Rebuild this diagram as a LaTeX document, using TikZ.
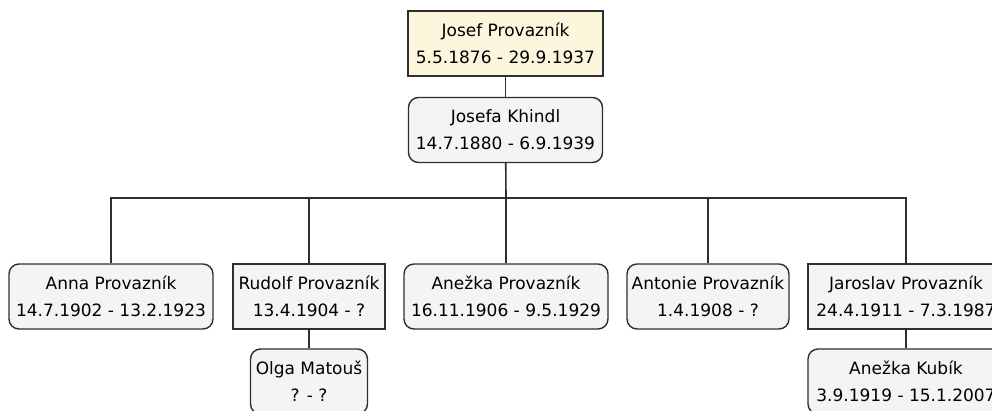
\documentclass[tikz,border=0pt]{standalone}
\usepackage{fontspec}
\setmainfont{DejaVu Sans}
\definecolor{paleyellow}{HTML}{FBF6DC}
\definecolor{palegray}{HTML}{F4F4F4}
\definecolor{edgegray}{HTML}{2E2E2E}
\tikzset{
  person/.style={draw=edgegray, line width=1.4pt, fill=palegray, align=center,
    minimum height=65pt, inner sep=2pt, font=\fontsize{17}{27}\selectfont},
  man/.style={person},
  woman/.style={person, rounded corners=10pt},
  link/.style={draw=edgegray, line width=1.6pt},
}
\begin{document}
\begin{tikzpicture}[x=1pt, y=-1pt]
    \useasboundingbox (0,0) rectangle (992,410);
    % parents
    \node[man, fill=paleyellow, minimum width=195pt] (josef) at (505.5,43.5) {Josef Provazník\\5.5.1876 - 29.9.1937};
    \node[woman, minimum width=194pt] (josefa) at (505.5,130) {Josefa Khindl\\14.7.1880 - 6.9.1939};

    % children
    \node[woman, minimum width=204pt] (anna) at (111,296.5) {Anna Provazník\\14.7.1902 - 13.2.1923};
    \node[man, minimum width=152pt] (rudolf) at (309,296.5) {Rudolf Provazník\\13.4.1904 - ?};
    \node[woman, minimum width=204pt] (anezka) at (506,296.5) {Anežka Provazník\\16.11.1906 - 9.5.1929};
    \node[woman, minimum width=162pt] (antonie) at (708,296.5) {Antonie Provazník\\1.4.1908 - ?};
    \node[man, minimum width=196pt] (jaroslav) at (906,296.5) {Jaroslav Provazník\\24.4.1911 - 7.3.1987};

    % spouses of the children
    \node[woman, minimum width=117pt] (olga) at (309,381.5) {Olga Matouš\\? - ?};
    \node[woman, minimum width=196pt] (kubik) at (906,381.5) {Anežka Kubík\\3.9.1919 - 15.1.2007};

    % connectors
    \coordinate (bar) at (506,198);
    \draw[link] (josef) -- (josefa);
    \draw[link] (josefa) -- (bar);
    \foreach \c in {anna,rudolf,anezka,antonie,jaroslav}
        \draw[link] (\c.north) |- (bar);
    \draw[link] (rudolf) -- (olga);
    \draw[link] (jaroslav) -- (kubik);
\end{tikzpicture}
\end{document}
